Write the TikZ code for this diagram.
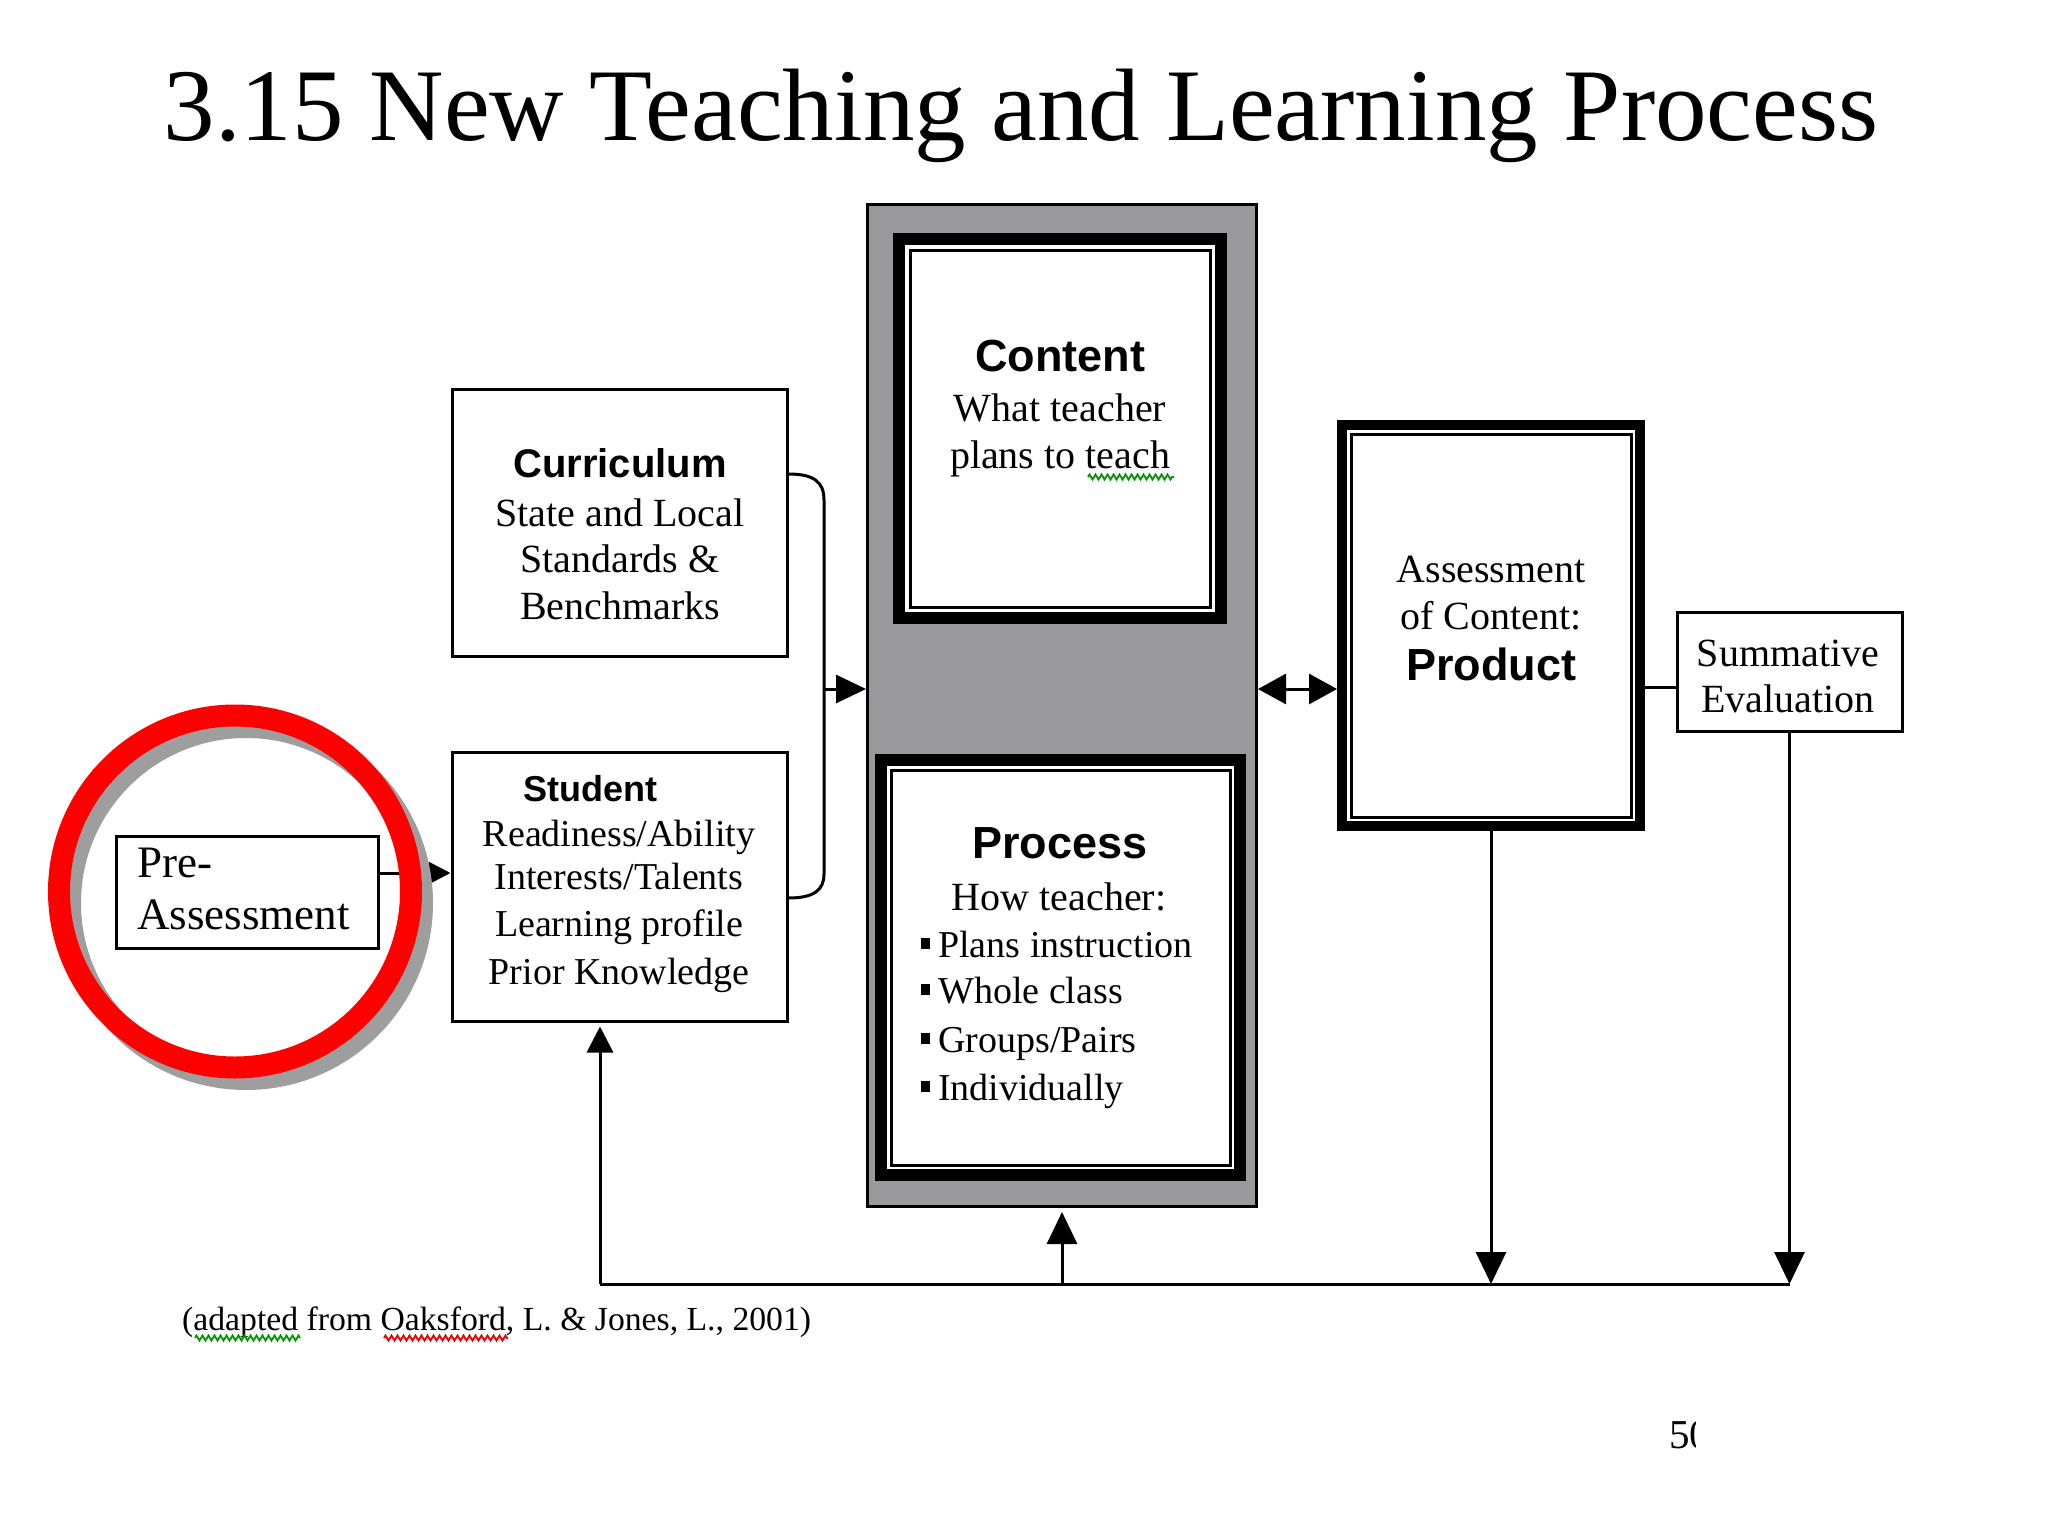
\documentclass[tikz,border=0pt]{standalone}
\usepackage{fontspec}
\setmainfont{Liberation Serif}
\newfontfamily\hsans{Liberation Sans}
\usetikzlibrary{arrows.meta,calc,decorations.pathmorphing}
\definecolor{panelgray}{RGB}{154,153,156}
\definecolor{ringred}{RGB}{255,0,0}
\definecolor{shadowgray}{RGB}{158,158,158}
\definecolor{squigG}{RGB}{0,150,0}
\definecolor{squigR}{RGB}{235,0,0}
\newcommand{\blt}{\raisebox{8pt}{\rule{9pt}{11pt}}\hspace{8pt}}
\begin{document}
\begin{tikzpicture}[x=1pt,y=-1pt,
  thinbox/.style={draw, line width=3pt, fill=white, inner sep=0pt},
  framebox/.style={draw, line width=12pt, fill=white, inner sep=0pt},
  txt/.style={inner sep=0pt, anchor=base, font=\fontsize{40}{47}\selectfont},
  head/.style={inner sep=0pt, anchor=base, font=\hsans\bfseries\fontsize{45}{50}\selectfont},
  conn/.style={line width=3pt},
  arr/.style={conn, -{Triangle[length=32pt,width=30pt]}},
  squig/.style={line width=1.8pt, decorate, decoration={zigzag, amplitude=2.5pt, segment length=6pt}},
]
\useasboundingbox[fill=white] (0,0) rectangle (2048,1536);

% title
\node[inner sep=0pt, anchor=base, font=\fontsize{103}{112}\selectfont] (title) at (1021,141) {3.15 New Teaching and Learning Process};

% gray panel
\node[draw, line width=3pt, fill=panelgray, inner sep=0pt, minimum width=389, minimum height=1002] (panel) at (1062,705.5) {};

% framed boxes
\node[framebox, minimum width=322, minimum height=379] (content) at (1060,428.5) {};
\draw[line width=3pt] ($(content.north west)+(17,17)$) rectangle ($(content.south east)+(-17,-17)$);
\node[framebox, minimum width=359, minimum height=415] (process) at (1060.5,967.5) {};
\draw[line width=3pt] ($(process.north west)+(16,16)$) rectangle ($(process.south east)+(-16,-16)$);
\node[framebox, line width=10pt, minimum width=298, minimum height=401] (product) at (1491,625.5) {};
\draw[line width=3pt] ($(product.north west)+(14,14)$) rectangle ($(product.south east)+(-14,-14)$);

% thin boxes
\node[thinbox, minimum width=335, minimum height=267] (curr) at (619.5,522.5) {};
\node[thinbox, minimum width=335, minimum height=269] (stud) at (619.5,886.5) {};
\node[thinbox, minimum width=262, minimum height=112] (pre) at (247,892) {};
\node[thinbox, minimum width=225, minimum height=119] (summ) at (1789.5,671.5) {};

% texts: curriculum
\node[head, font=\hsans\bfseries\fontsize{40}{47}\selectfont] (currH) at (620,477) {Curriculum};
\node[txt] (currA) at (620,526) {State and Local};
\node[txt] (currB) at (620,572) {Standards \&};
\node[txt] (currC) at (620,619) {Benchmarks};
% student
\node[head, font=\hsans\bfseries\fontsize{36}{42}\selectfont] (studH) at (590,801) {Student};
\node[txt, font=\fontsize{38}{46}\selectfont] (studA) at (619,846) {Readiness/Ability};
\node[txt, font=\fontsize{38}{46}\selectfont] (studB) at (619,889) {Interests/Talents};
\node[txt, font=\fontsize{38}{46}\selectfont] (studC) at (619,936) {Learning profile};
\node[txt, font=\fontsize{38}{46}\selectfont] (studD) at (619,984) {Prior Knowledge};
% content
\node[head] (contH) at (1060,371) {Content};
\node[txt] (contA) at (1060,421) {What teacher};
\node[txt] (contB) at (1060,468) {plans to teach};
% process
\node[head] (procH) at (1060,858) {Process};
\node[txt] (procA) at (1059,910) {How teacher:};
\node[txt, anchor=base west, font=\fontsize{38}{46}\selectfont] (procB) at (921,957) {\blt Plans instruction};
\node[txt, anchor=base west, font=\fontsize{38}{46}\selectfont] (procC) at (921,1003) {\blt Whole class};
\node[txt, anchor=base west, font=\fontsize{38}{46}\selectfont] (procD) at (921,1052) {\blt Groups/Pairs};
\node[txt, anchor=base west, font=\fontsize{38}{46}\selectfont] (procE) at (921,1100) {\blt Individually};
% product
\node[txt] (prodA) at (1491,582) {Assessment};
\node[txt] (prodB) at (1491,629) {of Content:};
\node[head] (prodH) at (1491,680) {Product};
% summative
\node[txt] (summA) at (1788,666) {Summative};
\node[txt] (summB) at (1788,712) {Evaluation};
% pre-assessment
\node[txt, anchor=base west, font=\fontsize{45}{52}\selectfont] (preA) at (137,877) {Pre-};
\node[txt, anchor=base west, font=\fontsize{45}{52}\selectfont] (preB) at (137,929) {Assessment};

% citation and page number
\node[txt, anchor=base west, font=\fontsize{33.7}{40}\selectfont] (cite) at (182,1330) {(adapted from Oaksford, L. \& Jones, L., 2001)};
\begin{scope}
\clip (1600,1380) rectangle (1695,1470);
\node[txt, anchor=base west, font=\fontsize{41}{48}\selectfont] (pgno) at (1669,1448) {50};
\end{scope}

% spell-check marks
\draw[squig, squigG] (1088,477) -- (1174,477);
\draw[squig, squigG] (195,1338) -- (300,1338);
\draw[squig, squigR] (384,1338) -- (508,1338);

% connector coordinates
\coordinate (rowA) at (0,873);
\coordinate (brTop) at (0,474);
\coordinate (brBot) at (0,898);
\coordinate (brX) at (824,0);
\coordinate (rowB) at (0,689);
\coordinate (rowC) at (0,687);
\coordinate (fbL) at (600,1284);
\coordinate (fbR) at (summ.south |- fbL);

% bracket from curriculum and student into panel
\draw[conn] (curr.east |- brTop) .. controls ($(brX |- brTop)+(-10,0)$) and ($(brX |- brTop)+(0,8)$) .. ($(brX |- brTop)+(0,26)$)
  -- ($(brX |- brBot)+(0,-24)$) .. controls ($(brX |- brBot)+(0,-8)$) and ($(brX |- brBot)+(-10,0)$) .. (stud.east |- brBot);
\draw[conn, -{Triangle[length=30pt,width=28pt]}] (brX |- rowB) -- (panel.west |- rowB);

% pre-assessment to student
\draw[conn, -{Triangle[length=22pt,width=22pt]}] (pre.east |- rowA) -- (stud.west |- rowA);

% panel <-> product
\draw[conn, {Triangle[length=28pt,width=30pt]}-{Triangle[length=28pt,width=30pt]}] (panel.east |- rowB) -- (product.west |- rowB);
% product -- summative
\draw[conn] (product.east |- rowC) -- (summ.west |- rowC);

% feedback loop
\draw[conn] (fbL) -- (fbR);
\draw[arr] (product.south) -- (product.south |- fbL);
\draw[arr] (summ.south) -- (fbR);
\draw[arr, shorten >=4pt] (panel.south |- fbL) -- (panel.south);
\draw[arr, shorten >=4pt, -{Triangle[length=26pt,width=26pt]}] (fbL) -- (fbL |- stud.south);

% highlight ring
\draw[shadowgray, line width=22pt] (246,903) circle[radius=176];
\draw[ringred, line width=22pt] (235,891.5) circle[radius=176];
\end{tikzpicture}
\end{document}
